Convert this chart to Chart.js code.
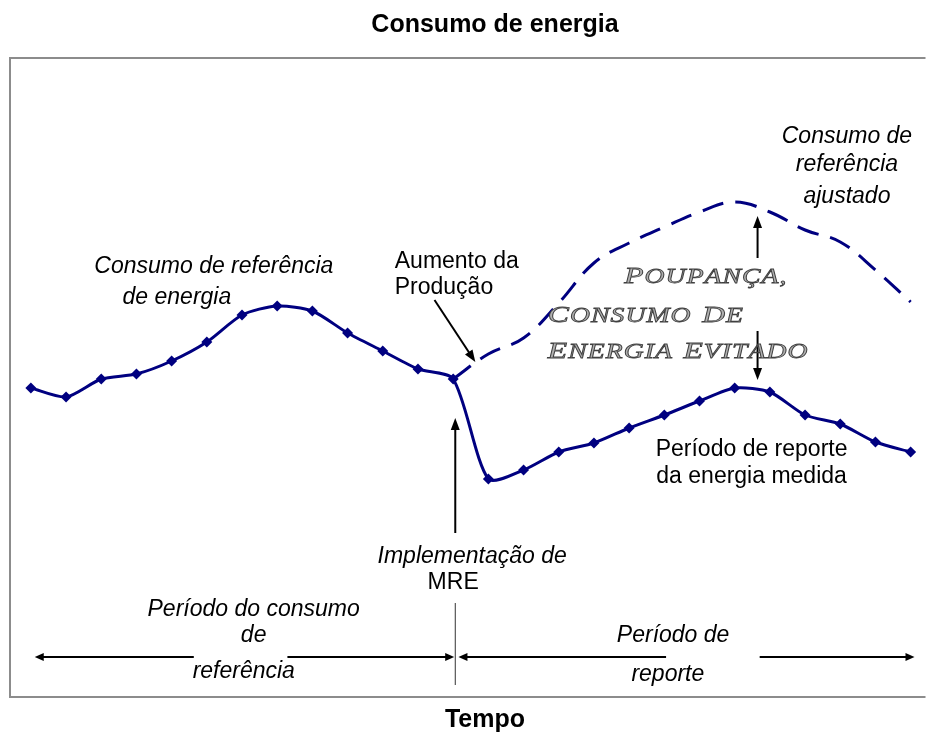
<!DOCTYPE html>
<html lang="pt">
<head>
<meta charset="utf-8">
<title>Consumo de energia</title>
<script src="https://cdn.jsdelivr.net/npm/chart.js@4.4.1/dist/chart.umd.min.js"></script>
<style>
    html, body { margin: 0; padding: 0; background: #fff; }
    canvas { display: block; }
</style>
</head>
<body>
<canvas id="energyChart" width="926" height="733"></canvas>
<script>
// Períodos de tempo (eixo x) e consumo (unidades arbitrárias)
const periodos = [1, 2, 3, 4, 5, 6, 7, 8, 9, 10, 11, 12, 13, 14, 15, 16, 17, 18, 19, 20, 21, 22, 23, 24, 25, 26];
const consumoMedido = [312, 303, 321, 326, 339, 358, 385, 394, 389, 367, 349, 331, 321, 221, 230, 248, 257, 272, 285, 299, 312, 308, 285, 276, 258, 248];

// Consumo de referência ajustado (a partir da implementação da MRE)
const periodosAjustado = [13, 14, 15, 16, 17, 18, 19, 20, 21, 22, 23, 24, 25, 26];
const consumoAjustado = [321, 346, 362, 397, 437, 457, 473, 488, 498, 488, 470, 458, 430, 398];

// Limites dos eixos
const limitesX = [0.407, 26.28];
const limitesY = [3, 642];

const AZUL = '#000080';
const SANS = "'Liberation Sans', Arial, sans-serif";

// Textos: [texto, período, valor, estilo, alinhamento]
const textos = [
    ['Consumo de referência', 6.2, 433, 'italic', 'center'],
    ['de energia', 5.15, 402, 'italic', 'center'],
    ['Aumento da', 11.34, 438, 'normal', 'left'],
    ['Produção', 11.34, 412, 'normal', 'left'],
    ['Consumo de', 24.19, 563, 'italic', 'center'],
    ['referência', 24.19, 535, 'italic', 'center'],
    ['ajustado', 24.19, 503, 'italic', 'center'],
    ['Período de reporte', 21.48, 250, 'normal', 'center'],
    ['da energia medida', 21.48, 223, 'normal', 'center'],
    ['Implementação de', 13.54, 143, 'italic', 'center'],
    ['MRE', 13.0, 117, 'normal', 'center'],
    ['Período do consumo', 7.33, 90, 'italic', 'center'],
    ['de', 7.33, 64, 'italic', 'center'],
    ['referência', 7.05, 28, 'italic', 'center'],
    ['Período de', 19.25, 64, 'italic', 'center'],
    ['reporte', 19.1, 25, 'italic', 'center']
];

// Texto decorativo (versaletes): [texto, período, valor da linha de base]
const textoPoupanca = [
    ['Poupança,', 17.86, 417],
    ['consumo de', 15.69, 378],
    ['energia evitado', 15.69, 342]
];

// Setas: [x1, y1, x2, y2] em unidades do gráfico, ponta em (x2, y2)
const setas = [
    [12.47, 400, 13.63, 338],
    [13.06, 167, 13.06, 282],
    [21.65, 442, 21.65, 484],
    [21.65, 369, 21.65, 320],
    [5.63, 43, 1.11, 43],
    [8.29, 43, 13.03, 43],
    [19.05, 43, 13.15, 43],
    [21.71, 43, 26.11, 43]
];

// Linha de separação dos períodos
const separacao = [13.06, 97, 13.06, 15];

function desenhaSeta(ctx, x1, y1, x2, y2, comp, larg) {
    const ang = Math.atan2(y2 - y1, x2 - x1);
    ctx.beginPath();
    ctx.moveTo(x1, y1);
    ctx.lineTo(x2 - Math.cos(ang) * comp * 0.8, y2 - Math.sin(ang) * comp * 0.8);
    ctx.stroke();
    ctx.beginPath();
    ctx.moveTo(x2, y2);
    ctx.lineTo(x2 - Math.cos(ang) * comp - Math.sin(ang) * larg / 2, y2 - Math.sin(ang) * comp + Math.cos(ang) * larg / 2);
    ctx.lineTo(x2 - Math.cos(ang) * comp + Math.sin(ang) * larg / 2, y2 - Math.sin(ang) * comp - Math.cos(ang) * larg / 2);
    ctx.closePath();
    ctx.fill();
}

// Versaletes desenhados à mão, com espaçamento entre letras
function passaVersalete(ctx, texto, tam, desenha) {
    let cx = 0;
    texto.split(' ').forEach((palavra, i) => {
        if (i > 0) {
            ctx.font = `italic ${tam}px 'Liberation Serif', serif`;
            cx += ctx.measureText(' ').width + 2;
        }
        [...palavra].forEach((ch, j) => {
            ctx.font = `italic ${j === 0 ? tam : Math.round(tam * 0.86)}px 'Liberation Serif', serif`;
            const c = ch.toUpperCase();
            if (desenha) {
                ctx.fillText(c, cx, 0);
                ctx.strokeText(c, cx, 0);
            }
            cx += ctx.measureText(c).width + 0.8;
        });
    });
    return cx;
}

const anotacoes = {
    id: 'anotacoes',
    afterDraw(chart) {
        const { ctx, chartArea, scales } = chart;
        const px = v => scales.x.getPixelForValue(v);
        const py = v => scales.y.getPixelForValue(v);
        ctx.save();

        // Moldura
        ctx.strokeStyle = '#8c8c8c';
        ctx.lineWidth = 2;
        ctx.beginPath();
        ctx.moveTo(chartArea.right + 5, chartArea.top);
        ctx.lineTo(chartArea.left, chartArea.top);
        ctx.lineTo(chartArea.left, chartArea.bottom);
        ctx.lineTo(chartArea.right + 5, chartArea.bottom);
        ctx.stroke();

        // Título e eixo
        ctx.fillStyle = '#000';
        ctx.textAlign = 'center';
        ctx.textBaseline = 'middle';
        ctx.font = `bold 25px ${SANS}`;
        ctx.fillText('Consumo de energia', 495, chartArea.top - 33);
        ctx.fillText('Tempo', 485, chartArea.bottom + 23);

        // Textos
        textos.forEach(([t, x, y, estilo, al]) => {
            ctx.font = `${estilo === 'italic' ? 'italic ' : ''}23px ${SANS}`;
            ctx.textAlign = al;
            ctx.fillText(t, px(x), py(y));
        });

        // Setas
        ctx.strokeStyle = '#000';
        ctx.fillStyle = '#000';
        ctx.lineWidth = 2;
        setas.forEach(([x1, y1, x2, y2]) => {
            const horizontal = y1 === y2;
            desenhaSeta(ctx, px(x1), py(y1), px(x2), py(y2), horizontal ? 9 : 12, horizontal ? 8 : 9);
        });

        ctx.lineWidth = 1;
        ctx.strokeStyle = '#333';
        ctx.beginPath();
        ctx.moveTo(px(separacao[0]), py(separacao[1]));
        ctx.lineTo(px(separacao[2]), py(separacao[3]));
        ctx.stroke();

        // Poupança, consumo de energia evitado
        ctx.textAlign = 'left';
        ctx.textBaseline = 'alphabetic';
        ctx.fillStyle = '#b0b0b0';
        ctx.strokeStyle = '#404040';
        ctx.lineWidth = 0.8;
        const tam = 24;
        const ultima = textoPoupanca[textoPoupanca.length - 1];
        const escala = (px(23.1) - px(ultima[1])) / passaVersalete(ctx, ultima[0], tam, false);
        textoPoupanca.forEach(([t, x, y]) => {
            ctx.save();
            ctx.translate(px(x), py(y));
            ctx.scale(escala, 1);
            passaVersalete(ctx, t, tam, true);
            ctx.restore();
        });

        ctx.restore();
    }
};

new Chart(document.getElementById('energyChart'), {
    type: 'line',
    data: {
        datasets: [
            {
                label: 'Consumo de energia medido',
                data: periodos.map((p, i) => ({ x: p, y: consumoMedido[i] })),
                borderColor: AZUL,
                backgroundColor: AZUL,
                borderWidth: 3,
                tension: 0.25,
                pointStyle: 'rectRot',
                pointRadius: 5.5,
                pointBorderWidth: 0,
                order: 1
            },
            {
                label: 'Consumo de referência ajustado',
                data: periodosAjustado.map((p, i) => ({ x: p, y: consumoAjustado[i] })),
                borderColor: AZUL,
                borderWidth: 3,
                borderDash: [22, 12],
                tension: 0.4,
                pointRadius: 0,
                order: 2
            }
        ]
    },
    options: {
        responsive: false,
        animation: false,
        layout: { padding: { left: 10, right: 0, top: 58, bottom: 36 } },
        scales: {
            x: { type: 'linear', min: limitesX[0], max: limitesX[1], display: false },
            y: { min: limitesY[0], max: limitesY[1], display: false }
        },
        plugins: {
            legend: { display: false },
            tooltip: { enabled: false }
        }
    },
    plugins: [anotacoes]
});
</script>
</body>
</html>
